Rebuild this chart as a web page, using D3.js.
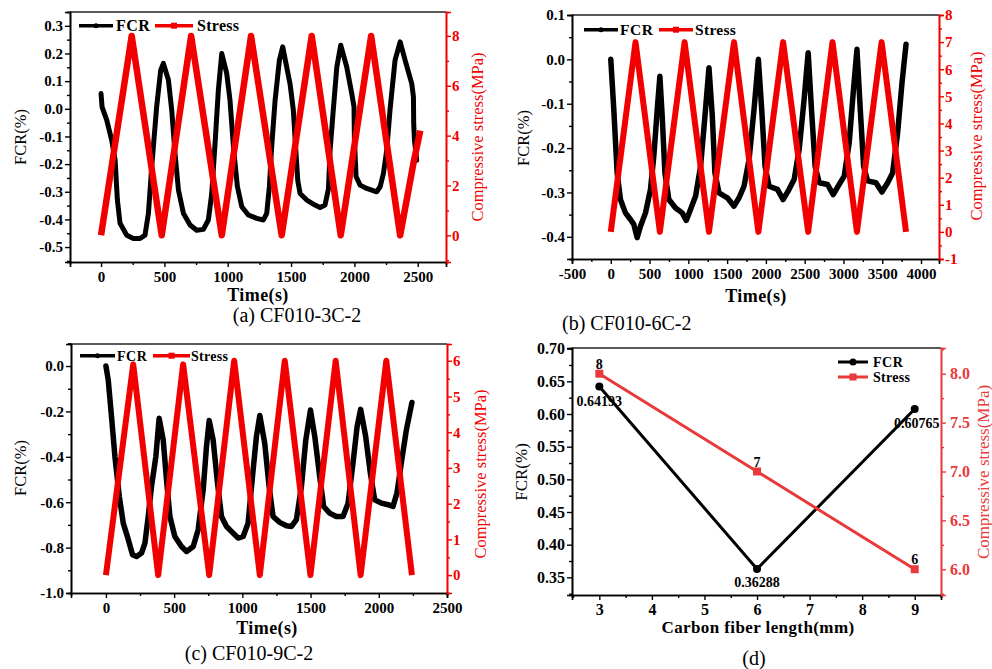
<!DOCTYPE html>
<html>
<head>
<meta charset="utf-8">
<script src="https://cdn.jsdelivr.net/npm/d3@7"></script>
<style>
  body { margin: 0; background: #fff; }
  svg text { font-family: "Liberation Serif", "Times New Roman", serif; }
</style>
</head>
<body>
<svg id="fig" width="992" height="669"></svg>
<script>
// ---- (a) CF010-3C-2 ----
var aFcrTime = [0,8,45,84,111,129,150,203,255,308,347,374,400,439,471,492,
  532,558,584,611,650,703,755,808,847,874,900,926,953,
  992,1018,1045,1076,1111,1163,1229,1282,1308,1329,1347,1374,1408,1434,
  1492,1518,1532,1553,1571,1624,1689,1729,1768,1795,1808,1834,1861,1892,
  1939,1979,1997,2000,2013,2045,2097,2176,2203,2229,2255,2282,2321,2361,
  2400,2453,2466,2468,2474,2492];
var aFcr = [0.055,0.007,-0.041,-0.113,-0.186,-0.33,-0.414,-0.457,-0.469,-0.469,-0.457,-0.378,-0.21,0.007,0.14,0.164,
  0.104,-0.005,-0.161,-0.294,-0.378,-0.42,-0.439,-0.436,-0.402,-0.306,-0.125,0.067,0.2,
  0.128,0.031,-0.137,-0.28,-0.354,-0.384,-0.396,-0.402,-0.378,-0.28,-0.137,0.031,0.176,0.224,
  0.09,-0.005,-0.11,-0.26,-0.306,-0.33,-0.348,-0.357,-0.348,-0.29,-0.15,0.0,0.15,0.23,
  0.152,0.055,0.007,-0.11,-0.245,-0.276,-0.288,-0.3,-0.282,-0.234,-0.15,0.0,0.176,0.242,
  0.176,0.09,0.043,-0.053,-0.113,-0.186];
var aStressTime = [0,242,479,711,953,1184,1426,1663,1892,2132,2361,2470,2520];
var aStress = [0,8,0,8,0,8,0,8,0,8,0,3.0,4.2];

// ---- (b) CF010-6C-2 ----
var bFcrTime = [0,39,82,125,189,254,297,340,383,448,512,555,599,633,
  663,698,749,835,921,973,1029,1094,1158,1214,1266,
  1309,1343,1395,1503,1589,1654,1718,1783,1847,1903,
  1946,1989,2041,2149,2222,2299,2364,2429,2493,2545,
  2588,2635,2687,2795,2868,2945,3010,3074,3126,3174,
  3217,3260,3311,3419,3496,3570,3634,3699,3755,3807];
var bFcr = [0,-0.113,-0.256,-0.316,-0.346,-0.361,-0.372,-0.402,-0.376,-0.346,-0.293,-0.218,-0.113,-0.038,
  -0.128,-0.256,-0.316,-0.335,-0.346,-0.363,-0.338,-0.308,-0.241,-0.128,-0.019,
  -0.128,-0.256,-0.301,-0.312,-0.331,-0.312,-0.286,-0.226,-0.113,0.0,
  -0.113,-0.241,-0.286,-0.293,-0.316,-0.293,-0.271,-0.203,-0.09,0.015,
  -0.113,-0.241,-0.278,-0.282,-0.305,-0.282,-0.263,-0.188,-0.075,0.023,
  -0.113,-0.241,-0.274,-0.278,-0.299,-0.278,-0.256,-0.165,-0.053,0.034];
var bStressTime = [0,319,633,952,1266,1589,1903,2222,2545,2859,3174,3492,3807];
var bStress = [0,7,0,7,0,7,0,7,0,7,0,7,0];

// ---- (c) CF010-9C-2 ----
var cFcrTime = [0,17,41,66,98,127,164,195,225,261,286,310,334,366,390,
  420,444,469,505,554,591,640,676,713,737,757,
  786,815,847,884,932,969,1006,1042,1072,1103,1128,
  1164,1196,1225,1274,1323,1360,1396,1433,1465,1499,
  1531,1567,1596,1640,1689,1738,1775,1811,1841,1867,
  1904,1938,1970,2019,2068,2104,2133,2165,2202,2243];
var cFcr = [0,-0.062,-0.223,-0.399,-0.575,-0.692,-0.765,-0.831,-0.839,-0.824,-0.78,-0.663,-0.531,-0.399,-0.23,
  -0.326,-0.501,-0.663,-0.751,-0.795,-0.817,-0.795,-0.721,-0.545,-0.355,-0.24,
  -0.326,-0.501,-0.663,-0.707,-0.736,-0.758,-0.751,-0.692,-0.501,-0.311,-0.218,
  -0.34,-0.531,-0.663,-0.689,-0.704,-0.707,-0.677,-0.531,-0.326,-0.194,
  -0.311,-0.487,-0.619,-0.648,-0.663,-0.663,-0.604,-0.428,-0.267,-0.191,
  -0.311,-0.472,-0.589,-0.604,-0.611,-0.619,-0.56,-0.428,-0.282,-0.161];
var cStressTime = [0,200,383,566,757,940,1128,1311,1499,1684,1867,2055,2243];
var cStress = [0,5.9,0,5.9,0,6,0,6,0,6,0,6,0];

// ---- (d) summary ----
var fiberLength = [3,6,9];
var dFcr = [0.64193,0.36288,0.60765];
var dStress = [8,7,6];
var dFcrLabels = ["0.64193","0.36288","0.60765"];
var dStressLabels = ["8","7","6"];

var RED = "#f20000";
var svg = d3.select("#fig");

function fix(n){ return function(d){ return (+d).toFixed(n); }; }
function steps(a, b, s){
  var out = [];
  for (var i = 0; a + i*s <= b + 1e-9; i++) out.push(+(a + i*s).toFixed(6));
  return out;
}
function zip(xs, ys){ return xs.map(function(v,i){ return [v, ys[i]]; }); }

function drawPanel(p){
  var g = svg.append("g");
  var x = d3.scaleLinear().domain(p.xDom).range([p.left, p.right]);
  var yL = d3.scaleLinear().domain(p.yLDom).range([p.bottom, p.top]);
  var yR = d3.scaleLinear().domain(p.yRDom).range([p.bottom, p.top]);

  // top frame
  g.append("line").attr("x1", p.left).attr("x2", p.right)
    .attr("y1", p.top).attr("y2", p.top)
    .attr("stroke", "#222").attr("stroke-width", 1.3);

  function axisGroup(axis, tr, color, size, weight){
    var a = g.append("g").attr("transform", tr).call(axis);
    a.select(".domain").attr("stroke", color).attr("stroke-width", 1.6);
    a.selectAll(".tick line").attr("stroke", color).attr("stroke-width", 1.4);
    a.selectAll("text").attr("fill", color)
      .style("font-size", size + "px").style("font-weight", weight)
      .style("font-family", '"Liberation Serif","Times New Roman",serif');
    return a;
  }

  // minor ticks
  axisGroup(d3.axisBottom(x).tickValues(p.xMinor).tickSize(3).tickFormat(""),
    "translate(0," + p.bottom + ")", "#000", 0, "bold");
  axisGroup(d3.axisLeft(yL).tickValues(p.yLMinor).tickSize(3).tickFormat(""),
    "translate(" + p.left + ",0)", "#000", 0, "bold");
  axisGroup(d3.axisRight(yR).tickValues(p.yRMinor).tickSize(3).tickFormat(""),
    "translate(" + p.right + ",0)", p.rColor, 0, "bold");

  // major ticks
  axisGroup(d3.axisBottom(x).tickValues(p.xTicks).tickSize(5).tickPadding(p.xPad).tickFormat(fix(p.xDec)),
    "translate(0," + p.bottom + ")", "#000", p.tickFont, "bold");
  axisGroup(d3.axisLeft(yL).tickValues(p.yLTicks).tickSize(5).tickPadding(2).tickFormat(fix(p.yLDec)),
    "translate(" + p.left + ",0)", "#000", p.tickFont, "bold");
  axisGroup(d3.axisRight(yR).tickValues(p.yRTicks).tickSize(5).tickPadding(p.rPad).tickFormat(fix(p.yRDec)),
    "translate(" + p.right + ",0)", p.rColor, p.tickFont, "bold");

  // axis titles
  g.append("text").text(p.yLTitle)
    .attr("transform", "translate(" + p.yLTitlePos[0] + "," + p.yLTitlePos[1] + ") rotate(-90)")
    .attr("text-anchor", "middle").attr("dy", "0.35em")
    .style("font-size", p.titleFont + "px");
  g.append("text").text("Compressive stress(MPa)")
    .attr("transform", "translate(" + p.yRTitlePos[0] + "," + p.yRTitlePos[1] + ") rotate(-90)")
    .attr("text-anchor", "middle").attr("dy", "0.35em")
    .attr("fill", p.rColor)
    .style("font-size", p.titleFont + "px");
  g.append("text").text(p.xTitle)
    .attr("x", p.xTitlePos[0]).attr("y", p.xTitlePos[1])
    .attr("text-anchor", "middle").attr("dy", "0.35em")
    .style("font-size", p.xTitleFont + "px").style("font-weight", "bold")
    .style("letter-spacing", "0.4px");

  // caption
  g.append("text").text(p.caption)
    .attr("x", p.capPos[0]).attr("y", p.capPos[1])
    .attr("text-anchor", p.capAnchor).attr("dy", "0.35em")
    .style("font-size", "20px");

  var line = function(ys){
    return d3.line().x(function(d){ return x(d[0]); }).y(function(d){ return ys(d[1]); });
  };

  // series
  g.append("path").datum(zip(p.fcrX, p.fcr))
    .attr("d", line(yL)).attr("fill", "none")
    .attr("stroke", "#000").attr("stroke-width", p.fcrWidth)
    .attr("stroke-linejoin", "round").attr("stroke-linecap", "round");
  g.append("path").datum(zip(p.stressX, p.stress))
    .attr("d", line(yR)).attr("fill", "none")
    .attr("stroke", p.rColor).attr("stroke-width", p.stressWidth)
    .attr("stroke-linejoin", "round");

  return {g: g, x: x, yL: yL, yR: yR};
}

function rowLegend(g, lx, ly, font, gap){
  // lx: [blackStart, blackEnd, fcrText, redStart, redEnd, stressText]
  g.append("line").attr("x1", lx[0]).attr("x2", lx[1]).attr("y1", ly).attr("y2", ly)
    .attr("stroke", "#000").attr("stroke-width", 3.5);
  g.append("circle").attr("cx", (lx[0]+lx[1])/2).attr("cy", ly).attr("r", 2.5).attr("fill", "#000");
  g.append("text").text("FCR").attr("x", lx[2]).attr("y", ly).attr("dy", "0.35em")
    .style("font-size", font + "px").style("font-weight", "bold").style("letter-spacing", "0.5px");
  g.append("line").attr("x1", lx[3]).attr("x2", lx[4]).attr("y1", ly).attr("y2", ly)
    .attr("stroke", RED).attr("stroke-width", 3.5);
  g.append("rect").attr("x", (lx[3]+lx[4])/2 - 3).attr("y", ly - 3).attr("width", 6).attr("height", 6).attr("fill", RED);
  g.append("text").text("Stress").attr("x", lx[5]).attr("y", ly).attr("dy", "0.35em")
    .style("font-size", font + "px").style("font-weight", "bold").style("letter-spacing", "0.3px");
}

// (a)
var pa = drawPanel({
  left: 70, right: 446, top: 12, bottom: 262,
  xDom: [-245, 2723], yLDom: [-0.554, 0.35], yRDom: [-1.07, 8.96],
  xTicks: steps(0, 2500, 500), xMinor: steps(250, 2250, 500), xDec: 0, xPad: 4,
  yLTicks: steps(-0.5, 0.3, 0.1), yLMinor: steps(-0.55, 0.35, 0.1), yLDec: 1,
  yRTicks: steps(0, 8, 2), yRMinor: steps(-1, 7, 2), yRDec: 0, rPad: 1,
  rColor: RED, tickFont: 15, titleFont: 16.5, xTitleFont: 18,
  yLTitle: "FCR(%)", yLTitlePos: [20, 137], yRTitlePos: [477, 137],
  xTitle: "Time(s)", xTitlePos: [258, 295],
  caption: "(a) CF010-3C-2", capPos: [297, 315], capAnchor: "middle",
  fcrX: aFcrTime, fcr: aFcr, stressX: aStressTime, stress: aStress,
  fcrWidth: 5, stressWidth: 6.5
});
rowLegend(pa.g, [79, 113, 116, 155, 193, 197], 25.7, 16);

// (b)
var pb = drawPanel({
  left: 572, right: 939, top: 15, bottom: 259,
  xDom: [-500, 4232], yLDom: [-0.45, 0.1], yRDom: [-1, 8],
  xTicks: steps(-500, 4000, 500), xMinor: steps(-250, 4000, 500), xDec: 0, xPad: 4,
  yLTicks: steps(-0.4, 0.1, 0.1), yLMinor: steps(-0.45, 0.05, 0.1), yLDec: 1,
  yRTicks: steps(-1, 8, 1), yRMinor: steps(-0.5, 7.5, 1), yRDec: 0, rPad: 1,
  rColor: RED, tickFont: 15, titleFont: 16.5, xTitleFont: 18,
  yLTitle: "FCR(%)", yLTitlePos: [523, 138], yRTitlePos: [976, 136],
  xTitle: "Time(s)", xTitlePos: [756, 296],
  caption: "(b) CF010-6C-2", capPos: [562, 323], capAnchor: "start",
  fcrX: bFcrTime, fcr: bFcr, stressX: bStressTime, stress: bStress,
  fcrWidth: 5.5, stressWidth: 6
});
rowLegend(pb.g, [584, 618, 620, 659, 693, 695], 29.7, 15.5);

// (c)
var pc = drawPanel({
  left: 71, right: 447, top: 344, bottom: 593,
  xDom: [-256, 2500], yLDom: [-1.0, 0.097], yRDom: [-0.5, 6.47],
  xTicks: steps(0, 2500, 500), xMinor: steps(250, 2250, 500), xDec: 0, xPad: 4,
  yLTicks: steps(-1.0, 0.0, 0.2), yLMinor: steps(-0.9, 0.1, 0.2), yLDec: 1,
  yRTicks: steps(0, 6, 1), yRMinor: steps(0.5, 6.0, 1), yRDec: 0, rPad: 1,
  rColor: RED, tickFont: 15, titleFont: 16.5, xTitleFont: 18,
  yLTitle: "FCR(%)", yLTitlePos: [20, 468], yRTitlePos: [480, 474],
  xTitle: "Time(s)", xTitlePos: [267, 628],
  caption: "(c) CF010-9C-2", capPos: [249, 653], capAnchor: "middle",
  fcrX: cFcrTime, fcr: cFcr, stressX: cStressTime, stress: cStress,
  fcrWidth: 5.5, stressWidth: 6
});
rowLegend(pc.g, [80, 115, 117, 153, 190, 191], 355.7, 14);

// (d)
var DRED = "#e83a3a";
var pd = drawPanel({
  left: 572, right: 941, top: 348, bottom: 595,
  xDom: [2.48, 9.5], yLDom: [0.323, 0.701], yRDom: [5.737, 8.263],
  xTicks: steps(3, 9, 1), xMinor: steps(2.5, 9.5, 1), xDec: 0, xPad: 4,
  yLTicks: steps(0.35, 0.7, 0.05), yLMinor: steps(0.325, 0.675, 0.05), yLDec: 2,
  yRTicks: steps(6, 8, 0.5), yRMinor: steps(5.75, 8.25, 0.5), yRDec: 1, rPad: 4,
  rColor: DRED, tickFont: 16, titleFont: 17, xTitleFont: 17,
  yLTitle: "FCR(%)", yLTitlePos: [521, 472], yRTitlePos: [983, 472],
  xTitle: "Carbon fiber length(mm)", xTitlePos: [758, 627],
  caption: "(d)", capPos: [754, 658], capAnchor: "middle",
  fcrX: fiberLength, fcr: dFcr, stressX: fiberLength, stress: dStress,
  fcrWidth: 3, stressWidth: 3
});
pd.g.selectAll(".fcr-pt").data(fiberLength).enter().append("circle")
  .attr("cx", function(d){ return pd.x(d); })
  .attr("cy", function(d,i){ return pd.yL(dFcr[i]); })
  .attr("r", 4).attr("fill", "#000");
pd.g.selectAll(".st-pt").data(fiberLength).enter().append("rect")
  .attr("x", function(d){ return pd.x(d) - 4; })
  .attr("y", function(d,i){ return pd.yR(dStress[i]) - 4; })
  .attr("width", 8).attr("height", 8).attr("fill", DRED);
pd.g.selectAll(".fcr-lab").data(dFcrLabels).enter().append("text")
  .text(function(d){ return d; })
  .attr("x", function(d,i){ return pd.x(fiberLength[i]) + (i === 2 ? 2 : 0); })
  .attr("y", function(d,i){ return pd.yL(dFcr[i]) + (i === 1 ? 18 : 19); })
  .attr("text-anchor", "middle")
  .style("font-size", "14px").style("font-weight", "bold");
pd.g.selectAll(".st-lab").data(dStressLabels).enter().append("text")
  .text(function(d){ return d; })
  .attr("x", function(d,i){ return pd.x(fiberLength[i]); })
  .attr("y", function(d,i){ return pd.yR(dStress[i]) - 5; })
  .attr("text-anchor", "middle")
  .style("font-size", "14px").style("font-weight", "bold");
// legend (d)
pd.g.append("line").attr("x1", 838).attr("x2", 868).attr("y1", 362).attr("y2", 362)
  .attr("stroke", "#000").attr("stroke-width", 3);
pd.g.append("circle").attr("cx", 853).attr("cy", 362).attr("r", 3.5).attr("fill", "#000");
pd.g.append("text").text("FCR").attr("x", 873).attr("y", 362).attr("dy", "0.35em")
  .style("font-size", "14px").style("font-weight", "bold").style("letter-spacing", "0.5px");
pd.g.append("line").attr("x1", 838).attr("x2", 868).attr("y1", 377).attr("y2", 377)
  .attr("stroke", DRED).attr("stroke-width", 3);
pd.g.append("rect").attr("x", 849.5).attr("y", 373.5).attr("width", 7).attr("height", 7).attr("fill", DRED);
pd.g.append("text").text("Stress").attr("x", 873).attr("y", 377).attr("dy", "0.35em")
  .style("font-size", "14px").style("font-weight", "bold").style("letter-spacing", "0.3px");
</script>
</body>
</html>
